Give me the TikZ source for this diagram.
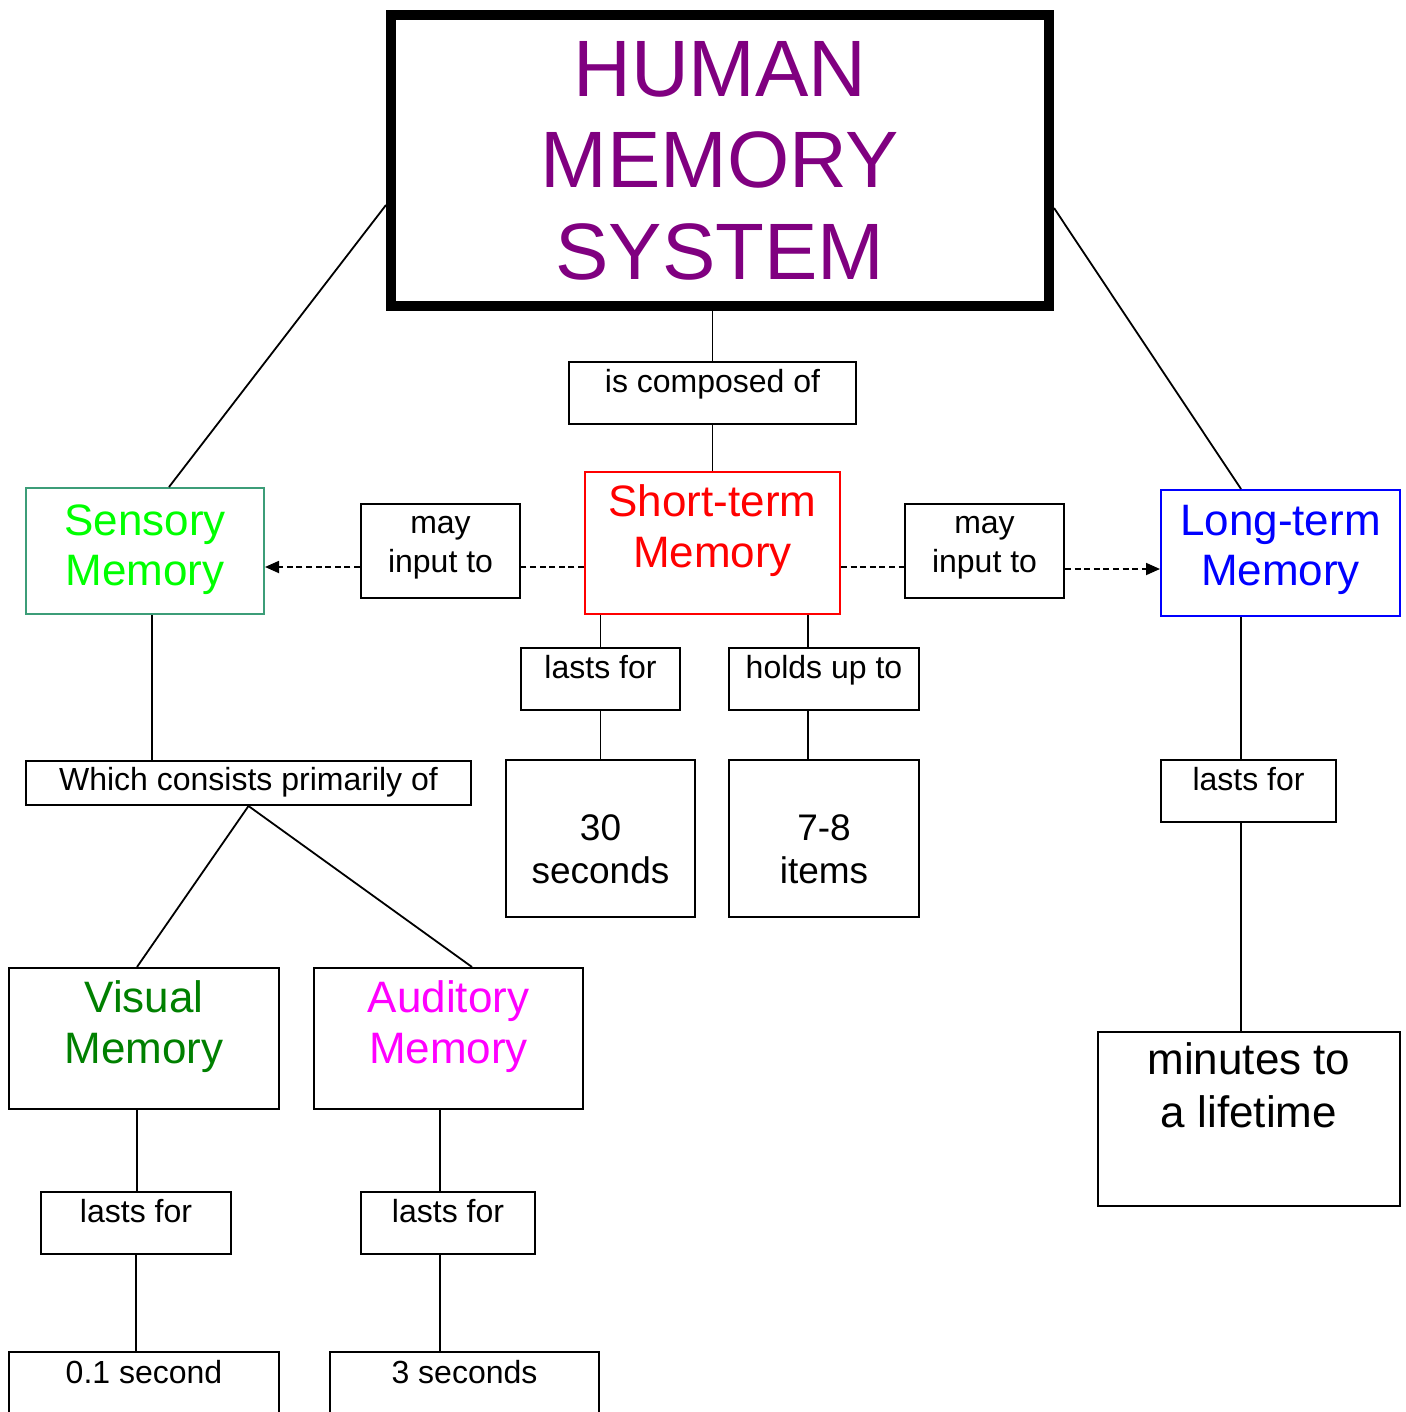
\documentclass[tikz,border=0pt]{standalone}
\usepackage{fontspec}
\setmainfont{Liberation Sans}
\usetikzlibrary{arrows.meta,calc}
\definecolor{ttl}{HTML}{800080}
\definecolor{stred}{HTML}{FF0000}
\definecolor{sensgreen}{HTML}{00FF00}
\definecolor{sensborder}{HTML}{3C9D78}
\definecolor{ltblue}{HTML}{0000FF}
\definecolor{visgreen}{HTML}{008000}
\definecolor{audmag}{HTML}{FF00FF}
\begin{document}
\begin{tikzpicture}[x=0.5pt,y=-0.5pt,
  box/.style={draw, line width=1pt, inner sep=0pt, rectangle},
  ln/.style={line width=0.9pt},
  dsh/.style={line width=0.9pt, dash pattern=on 3pt off 1.8pt},
  tip/.style={-{Triangle[length=7pt,width=6pt]}},
  txt/.style={anchor=base, inner sep=0pt, outer sep=0pt},
  big/.style={txt, font=\fontsize{40}{46}\selectfont, text=ttl},
  mem/.style={txt, font=\fontsize{22}{26}\selectfont},
  sm/.style={txt, font=\fontsize{16}{19}\selectfont},
  mid/.style={txt, font=\fontsize{18.5}{22}\selectfont}]
\useasboundingbox (0,0) rectangle (1405,1412);
\fill[white] (0,0) rectangle (1405,1412);
\clip (0,0) rectangle (1405,1412);

% boxes
\node[box, line width=5pt, minimum width=329pt, minimum height=145.5pt] (title) at (720,160.5) {};
\node[box, minimum width=143.5pt, minimum height=31pt] (comp) at (712.5,393) {};
\node[box, draw=stred, minimum width=127.5pt, minimum height=71pt] (st) at (712.5,543) {};
\node[box, draw=sensborder, minimum width=119pt, minimum height=63pt] (sens) at (145,551) {};
\node[box, draw=ltblue, minimum width=119.5pt, minimum height=63pt] (lt) at (1280.5,553) {};
\node[box, minimum width=79.5pt, minimum height=47pt] (mayL) at (440.5,551) {};
\node[box, minimum width=79.5pt, minimum height=47pt] (mayR) at (984.5,551) {};
\node[box, minimum width=79.5pt, minimum height=31pt] (lastST) at (600.5,679) {};
\node[box, minimum width=95pt, minimum height=31pt] (holds) at (824,679) {};
\node[box, minimum width=94.5pt, minimum height=78.5pt] (sec30) at (600.5,838.5) {};
\node[box, minimum width=95pt, minimum height=78.5pt] (items) at (824,838.5) {};
\node[box, minimum width=222.5pt, minimum height=22pt] (which) at (248.5,783) {};
\node[box, minimum width=135pt, minimum height=70.5pt] (vis) at (144,1038.5) {};
\node[box, minimum width=134.5pt, minimum height=70.5pt] (aud) at (448.5,1038.5) {};
\node[box, minimum width=95pt, minimum height=31pt] (lastV) at (136,1223) {};
\node[box, minimum width=87pt, minimum height=31pt] (lastA) at (448,1223) {};
\node[box, minimum width=135pt, minimum height=39pt] (sec01) at (144,1391) {};
\node[box, minimum width=134.5pt, minimum height=39pt] (sec3) at (464.5,1391) {};
\node[box, minimum width=87.5pt, minimum height=31pt] (ltlast) at (1248.5,791) {};
\node[box, minimum width=151pt, minimum height=87pt] (minutes) at (1249,1119) {};

% texts
\node[big] (t1) at (720,97) {HUMAN};
\node[big] (t2) at (720,188) {MEMORY};
\node[big] (t3) at (720,279) {SYSTEM};
\node[sm] (tcomp) at (712.5,392) {is composed of};
\node[mem, text=stred] (tst1) at (712.5,516) {Short-term};
\node[mem, text=stred] (tst2) at (712.5,567) {Memory};
\node[mem, text=sensgreen] (tse1) at (145,535) {Sensory};
\node[mem, text=sensgreen] (tse2) at (145,585) {Memory};
\node[mem, text=ltblue] (tlt1) at (1280.5,535) {Long-term};
\node[mem, text=ltblue] (tlt2) at (1280.5,585) {Memory};
\node[sm] (tml1) at (440.5,533) {may};
\node[sm] (tml2) at (440.5,572) {input to};
\node[sm] (tmr1) at (984.5,533) {may};
\node[sm] (tmr2) at (984.5,572) {input to};
\node[sm] (tlst) at (600.5,678) {lasts for};
\node[sm] (thold) at (824,678) {holds up to};
\node[mid] (t30a) at (600.5,840) {30};
\node[mid] (t30b) at (600.5,883) {seconds};
\node[mid] (t78a) at (824,840) {7-8};
\node[mid] (t78b) at (824,883) {items};
\node[sm] (twhich) at (248.5,790) {Which consists primarily of};
\node[mem, text=visgreen] (tv1) at (144,1012) {Visual};
\node[mem, text=visgreen] (tv2) at (144,1063) {Memory};
\node[mem, text=audmag] (ta1) at (448.5,1012) {Auditory};
\node[mem, text=audmag] (ta2) at (448.5,1063) {Memory};
\node[sm] (tlv) at (136,1222) {lasts for};
\node[sm] (tla) at (448,1222) {lasts for};
\node[sm] (t01) at (144,1383) {0.1 second};
\node[sm] (t3s) at (464.5,1383) {3 seconds};
\node[sm] (tltl) at (1248.5,790) {lasts for};
\node[mem] (tmin1) at (1249,1074) {minutes to};
\node[mem] (tmin2) at (1249,1127) {a lifetime};

% connectors
\draw[ln] (comp.north |- title.south) -- (comp.north);
\draw[ln] (comp.south) -- (st.north);
\draw[ln] ([xshift=12pt]sens.north) -- ([yshift=-22.25pt]title.west);
\draw[ln] ([xshift=-19.75pt]lt.north) -- ([yshift=-23.75pt]title.east);
\draw[ln] (lastST.north |- st.south) -- (lastST.north);
\draw[ln] (lastST.south) -- (sec30.north);
\draw[ln] ([xshift=-8pt]holds.north |- st.south) -- ([xshift=-8pt]holds.north);
\draw[ln] ([xshift=-8pt]holds.south) -- ([xshift=-8pt]items.north);
\draw[ln] ([xshift=3.5pt]sens.south) -- ([xshift=3.5pt]sens.south |- which.north);
\draw[ln] (which.south) -- ([xshift=-3.5pt]vis.north);
\draw[ln] (which.south) -- ([xshift=11.75pt]aud.north);
\draw[ln] ([xshift=-3.5pt]vis.south) -- ([xshift=-3.5pt]vis.south |- lastV.north);
\draw[ln] (lastV.south) -- (lastV.south |- sec01.north);
\draw[ln] ([xshift=-4pt]lastA.north |- aud.south) -- ([xshift=-4pt]lastA.north);
\draw[ln] ([xshift=-4pt]lastA.south) -- ([xshift=-4pt]lastA.south |- sec3.north);
\draw[ln] ([xshift=-19.75pt]lt.south) -- ([xshift=-19.75pt]lt.south |- ltlast.north);
\draw[ln] ([xshift=-3.75pt]ltlast.south) -- ([xshift=-3.75pt]ltlast.south |- minutes.north);
\draw[dsh] ([yshift=-12pt]st.west) -- ([yshift=-12pt]st.west -| mayL.east);
\draw[dsh, tip] ([yshift=-8pt]mayL.west) -- ([yshift=-8pt]mayL.west -| sens.east);
\draw[dsh] ([yshift=-12pt]st.east) -- ([yshift=-12pt]st.east -| mayR.west);
\draw[dsh, tip] ([yshift=-9pt]mayR.east) -- ([yshift=-9pt]mayR.east -| lt.west);
\end{tikzpicture}
\end{document}
